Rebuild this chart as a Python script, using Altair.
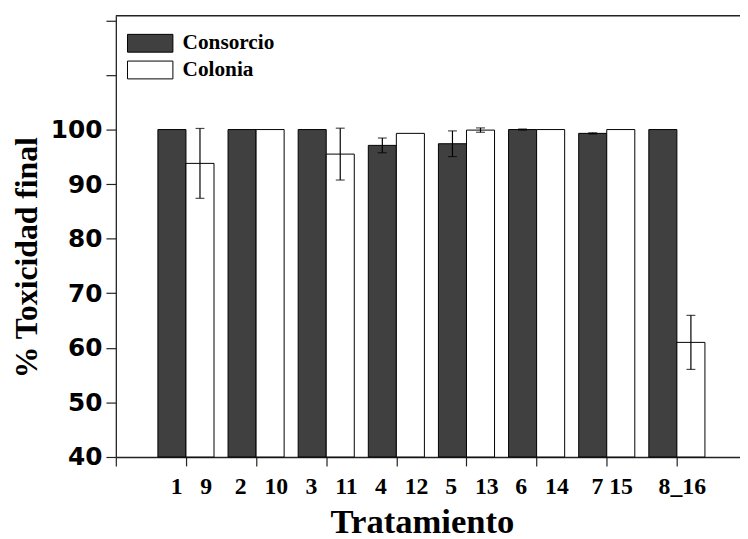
import json
import altair as alt
import pandas as pd

# ---------------- data ----------------
groups = [1, 2, 3, 4, 5, 6, 7, 8]
NB = "\u00a0"
tick_labels = [
    "1" + NB * 3 + "9",
    "2" + NB * 3 + "10",
    "3" + NB * 3 + "11",
    "4" + NB * 3 + "12",
    "5" + NB * 3 + "13",
    "6" + NB * 3 + "14",
    NB * 2 + "7" + NB + "15",
    "8_16",
]
consorcio = [100.0, 100.0, 100.0, 97.1, 97.4, 100.0, 99.3, 100.0]
consorcio_err = [0.0, 0.0, 0.0, 1.35, 2.35, 0.1, 0.1, 0.0]
colonia = [93.8, 100.0, 95.5, 99.3, 99.9, 100.0, 100.0, 61.0]
colonia_err = [6.4, 0.0, 4.75, 0.0, 0.4, 0.0, 0.0, 4.95]
series = ["Consorcio", "Colonia"]
colors = ["#404040", "#ffffff"]

# ---------------- layout constants ----------------
W, H = 631, 446
BAR_W = 0.4
Y_MIN = 40
X_DOMAIN = [0, 8.9]
Y_DOMAIN = [Y_MIN, 120.84]

rows = []
for g, v, e in zip(groups, consorcio, consorcio_err):
    rows.append(dict(serie="Consorcio", x0=g - BAR_W, x1=g, xc=g - BAR_W / 2,
                     v=v, err=e, base=Y_MIN))
for g, v, e in zip(groups, colonia, colonia_err):
    rows.append(dict(serie="Colonia", x0=g, x1=g + BAR_W, xc=g + BAR_W / 2,
                     v=v, err=e, base=Y_MIN))
df = pd.DataFrame(rows)
df["lo"] = df["v"] - df["err"]
df["hi"] = df["v"] + df["err"]
df_err = df[df["err"] > 0]

xscale = alt.Scale(domain=X_DOMAIN, nice=False, zero=False)
yscale = alt.Scale(domain=Y_DOMAIN, nice=False, zero=False)

x_ticks = sorted([float(k) for k in range(0, 9)] + [k + 0.5 for k in range(0, 9)])
y_ticks = list(range(40, 121, 5))

labels_js = json.dumps(tick_labels, ensure_ascii=False)
x_axis = alt.Axis(
    values=x_ticks,
    labelExpr=f"datum.value >= 1 && datum.value % 1 === 0 ? {labels_js}[datum.value - 1] : ''",
    tickSize={"condition": {"test": "datum.value % 1 === 0", "value": 9}, "value": 4},
    tickColor="#222", tickWidth=1.2,
    domainColor="#222", domainWidth=1.3,
    labelFont="Liberation Serif", labelFontWeight="bold", labelFontSize=24,
    labelColor="black", labelPadding=9, labelOffset=5,
    labelOverlap=False, labelFlush=False, labelBound=False,
    grid=False,
    title="Tratamiento", titleFont="Liberation Serif", titleFontWeight="bold",
    titleFontSize=35, titleColor="black",
    titleX=309.5, titleY=76, titleBaseline="alphabetic", titleAlign="center",
)
y_axis = alt.Axis(
    values=y_ticks,
    labelExpr="datum.value <= 100 && datum.value % 10 === 0 ? datum.label : ''",
    tickSize={"condition": {"test": "datum.value % 10 === 0", "value": 10}, "value": 6},
    tickColor="#222", tickWidth=1.2,
    domainColor="#222", domainWidth=1.3,
    labelFont="DejaVu Sans", labelFontWeight="bold", labelFontSize=25,
    labelColor="black", labelPadding=4,
    labelOverlap=False, labelFlush=False, labelBound=False,
    grid=False,
    title="% Toxicidad final", titleFont="Liberation Serif", titleFontWeight="bold",
    titleFontSize=32, titleColor="black", titleAngle=270,
    titleX=-80, titleY=244, titleBaseline="alphabetic", titleAlign="center",
)

legend = alt.Legend(
    orient="none", legendX=24, legendY=17, title=None, padding=0,
    symbolType="M-2.55,-1H2.55V1H-2.55Z", symbolSize=324,
    symbolStrokeColor="black", symbolStrokeWidth=1, symbolOpacity=1,
    labelFont="Liberation Serif", labelFontWeight="bold", labelFontSize=21.5,
    labelColor="black", labelOffset=22, rowPadding=4,
)

base = alt.Chart(df)
bars = base.mark_bar(stroke="black", strokeWidth=1, opacity=1).encode(
    x=alt.X("x0:Q", scale=xscale, axis=x_axis),
    x2="x1:Q",
    y=alt.Y("v:Q", scale=yscale, axis=y_axis),
    y2="base:Q",
    color=alt.Color("serie:N", scale=alt.Scale(domain=series, range=colors),
                    legend=legend, sort=series),
)

eb = alt.Chart(df_err)
err_line = eb.mark_rule(color="black", strokeWidth=1.2).encode(
    x=alt.X("xc:Q", scale=xscale), y=alt.Y("lo:Q", scale=yscale), y2="hi:Q")
cap_lo = eb.mark_tick(color="black", orient="horizontal", size=9, thickness=1.2).encode(
    x=alt.X("xc:Q", scale=xscale), y=alt.Y("lo:Q", scale=yscale))
cap_hi = eb.mark_tick(color="black", orient="horizontal", size=9, thickness=1.2).encode(
    x=alt.X("xc:Q", scale=xscale), y=alt.Y("hi:Q", scale=yscale))

frame_top = alt.Chart(df.head(1)).mark_rule(color="#222", strokeWidth=1.5).encode(
    x=alt.value(0), x2=alt.value(W), y=alt.value(0))

chart = alt.layer(bars, err_line, cap_lo, cap_hi, frame_top).properties(
    width=W, height=H,
    padding={"left": 109, "top": 5, "right": 0, "bottom": 80},
    autosize=alt.AutoSizeParams(type="none"),
    background="white",
).configure_view(stroke=None)

chart.save("out.html", embed_options={"renderer": "svg", "actions": False})
